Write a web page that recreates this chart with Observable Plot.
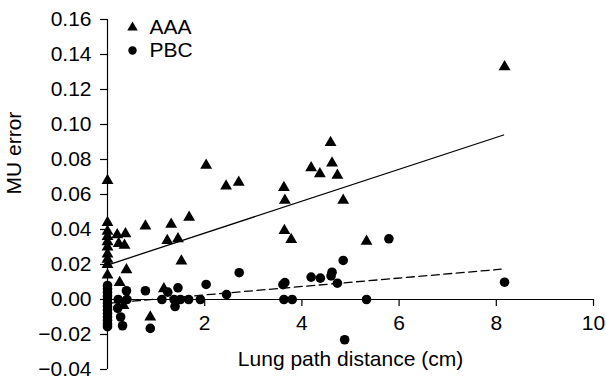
<!DOCTYPE html>
<html>
<head>
<meta charset="utf-8">
<script src="https://cdn.jsdelivr.net/npm/d3@7"></script>
<script src="https://cdn.jsdelivr.net/npm/@observablehq/plot@0.6"></script>
<style>
  html, body { margin: 0; padding: 0; background: #fff; }
</style>
</head>
<body>
<div id="chart"></div>
<script>
// ---- Data ----
const seriesNames = ["AAA", "PBC"];

const aaaX = [0, 0, 0, 0, 0, 0, 0, 0, 0, 0,
  0.20, 0.37, 0.23, 0.35, 0.39, 0.25, 0.33,
  0.78, 0.88,
  1.31, 1.68, 1.23, 1.45, 1.52, 1.16,
  2.03, 2.44, 2.70,
  3.63, 3.65, 3.64, 3.78,
  4.59, 4.19, 4.37, 4.62, 4.73, 4.85, 5.33,
  8.17];
const aaaY = [0.068, 0.044, 0.039, 0.036, 0.033, 0.030, 0.026, 0.023, 0.020, 0.014,
  0.037, 0.0375, 0.032, 0.031, 0.017, 0.0097, -0.0035,
  0.042, -0.010,
  0.043, 0.047, 0.0337, 0.0347, 0.0219, 0.0061,
  0.0766, 0.0648, 0.067,
  0.0640, 0.0566, 0.0394, 0.0343,
  0.0896, 0.0753, 0.0718, 0.0779, 0.0709, 0.0566, 0.0333,
  0.133];

const pbcX = [0, 0, 0, 0, 0, 0, 0, 0, 0, 0, 0, 0, 0,
  0.39, 0.22, 0.40, 0.21, 0.27, 0.31,
  0.78, 0.88,
  1.12, 1.24, 1.37, 1.39, 1.45, 1.50, 1.67, 1.91, 2.03, 2.45, 2.71,
  3.65, 3.61, 3.63, 3.80,
  4.19, 4.38, 4.62, 4.60, 4.73, 4.85, 5.33, 5.79, 4.88,
  8.17];
const pbcY = [0.008, 0.006, 0.004, 0.002, 0.000, -0.002, -0.004, -0.006, -0.008, -0.010, -0.012, -0.014, -0.0155,
  0.005, 0.0, 0.0, -0.005, -0.010, -0.015,
  0.005, -0.0165,
  0.0, 0.0042, 0.0, -0.004, 0.0067, 0.0, 0.0, 0.0, 0.0086, 0.0028, 0.0153,
  0.0097, 0.0085, 0.0, 0.0,
  0.0128, 0.0122, 0.0156, 0.0135, 0.0093, 0.0223, 0.0, 0.0347, -0.023,
  0.0099];

// fitted trend lines (end points)
const fitAAAX = [0, 8.15];
const fitAAAY = [0.0197, 0.094];
const fitPBCX = [0, 8.1];
const fitPBCY = [-0.0022, 0.0173];

const xTicks = [2, 4, 6, 8, 10];
const yTicks = [-0.04, -0.02, 0, 0.02, 0.04, 0.06, 0.08, 0.10, 0.12, 0.14, 0.16];
const xLabel = "Lung path distance (cm)";
const yLabel = "MU error";

// ---- Build tables ----
const aaa = aaaX.map((x, i) => ({x, y: aaaY[i]}));
const pbc = pbcX.map((x, i) => ({x, y: pbcY[i]}));
const fitAAA = fitAAAX.map((x, i) => ({x, y: fitAAAY[i]}));
const fitPBC = fitPBCX.map((x, i) => ({x, y: fitPBCY[i]}));

const W = 606, H = 379;
const FS = 21;

const chart = Plot.plot({
  width: W,
  height: H,
  marginTop: 19,
  marginRight: 13,
  marginBottom: 10,
  marginLeft: 107,
  style: {fontFamily: "'Liberation Sans', Arial, Helvetica, sans-serif", fontSize: FS + "px", background: "#fff", color: "#000"},
  x: {domain: [0, 10], axis: null},
  y: {domain: [-0.04, 0.16]},
  marks: [
    Plot.axisY({ticks: yTicks, tickFormat: d3.format(".2f"), tickSize: 7, tickPadding: 9, fontSize: FS, label: null, strokeWidth: 1.2}),
    Plot.ruleX([0], {strokeWidth: 1.2}),
    Plot.ruleY([0], {strokeWidth: 1.2}),
    Plot.ruleX(xTicks, {x: d => d, y1: 0, y2: 0, insetBottom: -7, strokeWidth: 1.2}),
    Plot.text(xTicks, {x: d => d, y: 0, dy: 24, text: d => String(d), fontSize: FS}),
    Plot.line(fitAAA, {x: "x", y: "y", stroke: "#000", strokeWidth: 1.3}),
    Plot.line(fitPBC, {x: "x", y: "y", stroke: "#000", strokeWidth: 1.3, strokeDasharray: "8,4.5"}),
    Plot.dot(aaa, {x: "x", y: "y", symbol: "triangle", r: 4.4, fill: "#000", stroke: null}),
    Plot.dot(pbc, {x: "x", y: "y", symbol: "circle", r: 4.8, fill: "#000", stroke: null}),
    // legend
    Plot.dot([seriesNames[0]], {frameAnchor: "top-left", dx: 25, dy: 8, symbol: "triangle", r: 3.9, fill: "#000", stroke: null}),
    Plot.text([seriesNames[0]], {frameAnchor: "top-left", dx: 42, dy: 8, text: d => d, textAnchor: "start", lineAnchor: "middle", fontSize: FS}),
    Plot.dot([seriesNames[1]], {frameAnchor: "top-left", dx: 25, dy: 31, symbol: "circle", r: 4.2, fill: "#000", stroke: null}),
    Plot.text([seriesNames[1]], {frameAnchor: "top-left", dx: 42, dy: 31, text: d => d, textAnchor: "start", lineAnchor: "middle", fontSize: FS}),
    // axis titles
    Plot.text([xLabel], {frameAnchor: "bottom", dy: -10, text: d => d, lineAnchor: "middle", fontSize: FS}),
    Plot.text([yLabel], {frameAnchor: "left", dx: -93, rotate: -90, text: d => d, lineAnchor: "middle", fontSize: FS})
  ]
});
document.getElementById("chart").appendChild(chart);
</script>
</body>
</html>
